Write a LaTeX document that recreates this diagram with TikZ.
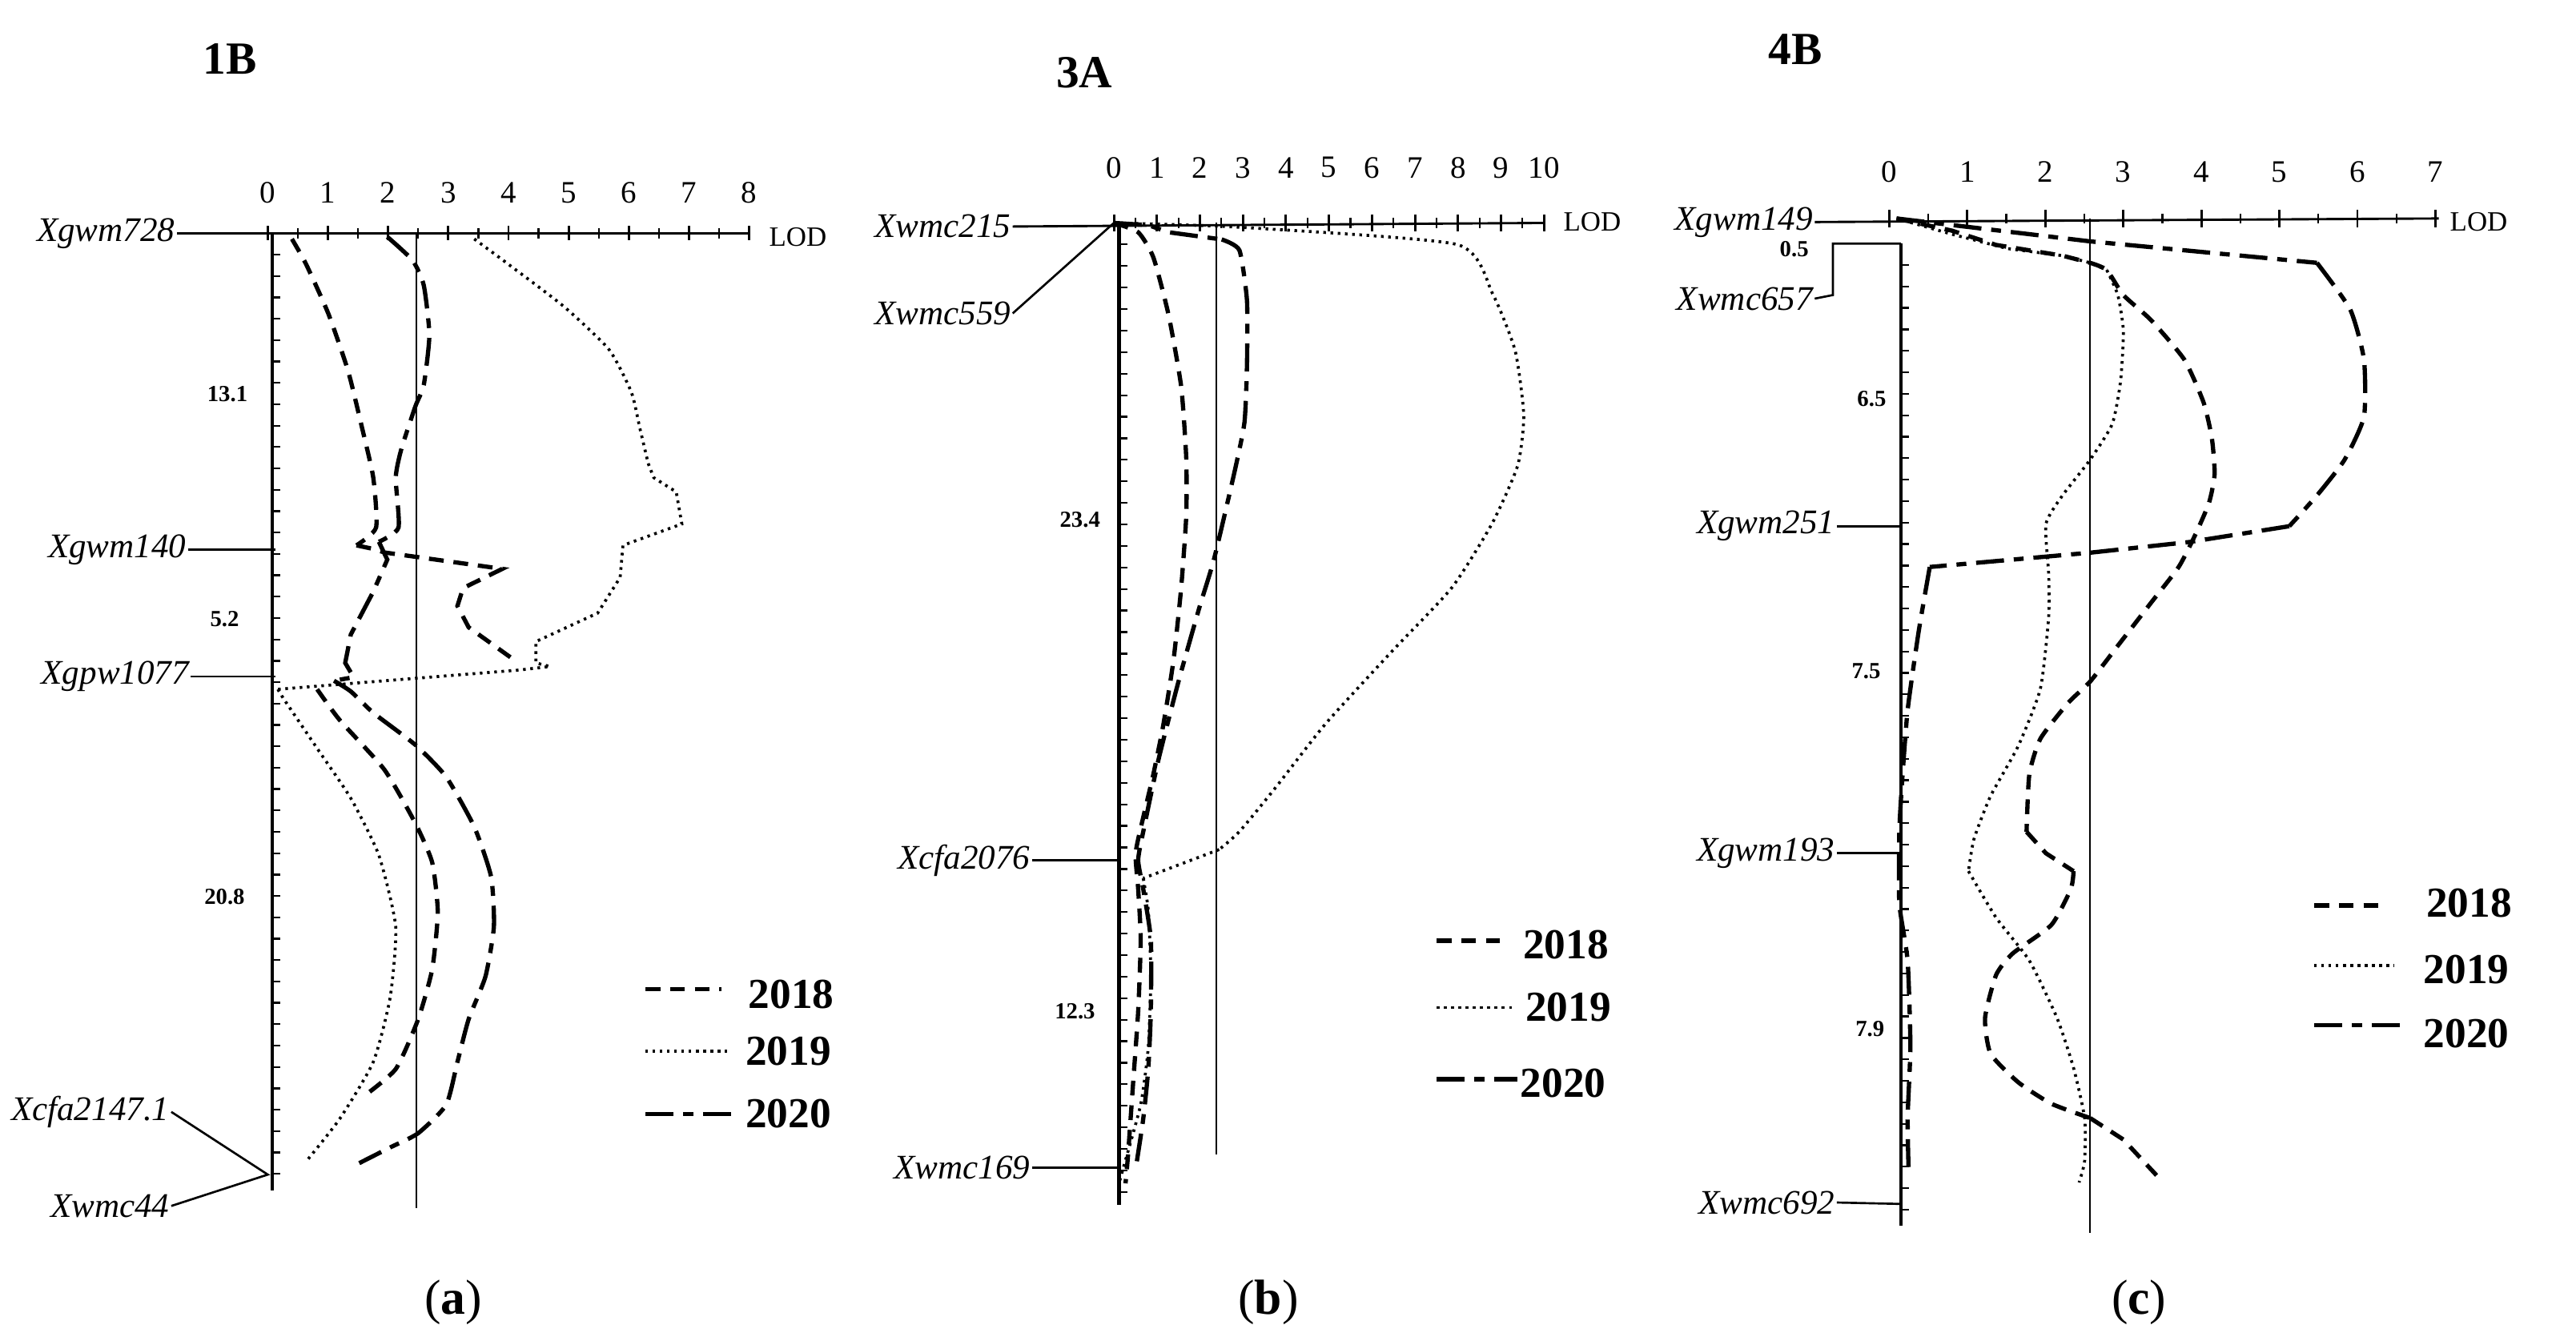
\documentclass[tikz,border=0pt]{standalone}
\usepackage{fontspec}
\setmainfont{Liberation Serif}
\begin{document}
\begin{tikzpicture}[x=1pt,y=-1pt,
  mk/.style={font=\fontsize{21}{21}\selectfont\itshape,anchor=east,inner sep=1pt},
  num/.style={font=\fontsize{19}{19}\selectfont,inner sep=0pt},
  lod/.style={font=\fontsize{17}{17}\selectfont,anchor=west,inner sep=0pt},
  iv/.style={font=\fontsize{14}{14}\selectfont\bfseries,inner sep=0pt},
  leg/.style={font=\fontsize{26}{26}\selectfont\bfseries,inner sep=0pt},
  ttl/.style={font=\fontsize{28}{28}\selectfont\bfseries,inner sep=0pt},
  capn/.style={font=\fontsize{30}{30}\selectfont,inner sep=0pt},
  axis/.style={line width=1.4pt},
  vaxis/.style={line width=2.4pt},
  thr/.style={line width=1.1pt},
  mline/.style={line width=1.3pt},
  y18/.style={line width=2.6pt,dash pattern=on 9pt off 6pt},
  y19/.style={line width=1.8pt,dash pattern=on 1.6pt off 2.8pt},
  y20/.style={line width=2.6pt,dash pattern=on 17pt off 6pt on 6pt off 6pt},
  cv/.style={smooth,tension=0.35}]
\useasboundingbox (0,0) rectangle (1568,816);
% titles and captions
\node[ttl] (t1) at (140,36) {1B};
\node[ttl] (t2) at (660,44) {3A};
\node[ttl] (t3) at (1093,30) {4B};
\node[capn] (ca) at (276,793) {(\textbf{a})};
\node[capn] (cb) at (772,793) {(\textbf{b})};
\node[capn] (cc) at (1302,793) {(\textbf{c})};

% ---------------- panel a ----------------
\begin{scope}[shift={(1.81,73.9)},xscale=0.3415,yscale=0.4338]
\coordinate (a0) at (472,157);
\coordinate (aend) at (1330,157);
\node[mk] (a728) at (310,157) {Xgwm728};
\draw[axis] (a728.east) -- (aend);
\foreach \k in {0,...,8}{
  \draw[axis] (472+107.25*\k,147) -- (472+107.25*\k,167);
  \node[num] at (472+107.25*\k,100) {\k};}
\foreach \k in {0,...,7}{\draw[thr] (525.6+107.25*\k,150) -- (525.6+107.25*\k,164);}
\node[lod] (alod) at (1365,162) {LOD};
\draw[vaxis] (480,157) -- (480,1500);
\foreach \y in {187,217,...,1490}{\draw[thr] (480,\y) -- (494,\y);}
\draw[thr] (737,157) -- (737,1525);
\node[mk] (a140) at (330,601) {Xgwm140};
\coordinate (a140e) at (485,601);
\draw[mline] (a140.east) -- (a140e);
\node[mk] (a1077) at (335,779) {Xgpw1077};
\coordinate (a1077e) at (485,779);
\draw[mline] (a1077.east) -- (a1077e);
\coordinate (a44p) at (472,1478);
\node[mk] (a2147) at (300,1390) {Xcfa2147.1};
\node[mk] (a44) at (300,1522) {Xwmc44};
\draw[mline] (a2147.east) -- (a44p) -- (a44.east);
\node[iv] at (400,383) {13.1};
\node[iv] at (395,698) {5.2};
\node[iv] at (395,1088) {20.8};
\draw[y18] plot[cv] coordinates {(515,165) (540,200) (580,270) (615,350) (640,430) (660,500) (665,570) (630,595)};
\draw[y18] (630,595) -- (660,600) -- (680,605) -- (890,628) -- (820,655) -- (810,680) -- (830,710) -- (915,758);
\draw[y18] plot[cv] coordinates {(560,797) (600,840) (680,910) (735,985) (765,1040) (775,1110) (765,1190) (740,1260) (700,1330) (640,1370)};
\draw[y19] plot[cv] coordinates {(840,165) (900,200) (1000,260) (1080,320) (1120,380) (1135,430) (1150,480)};
\draw[y19] (1150,480) -- (1160,500) -- (1200,520) -- (1210,565) -- (1105,595) -- (1100,640) -- (1060,690) -- (950,730) -- (950,760) -- (975,765) -- (920,770) -- (490,797);
\draw[y19] plot[cv] coordinates {(490,797) (500,810) (560,880) (620,950) (670,1030) (700,1130) (690,1230) (660,1320) (600,1400) (540,1460)};
\draw[y20] plot[cv] coordinates {(685,162) (730,195) (750,230) (760,300) (750,370) (735,400) (710,460) (700,500) (705,570) (670,590)};
\draw[y20] (670,590) -- (685,615) -- (660,660) -- (620,720) -- (610,760) -- (625,780) -- (590,785);
\draw[y20] plot[cv] coordinates {(590,785) (620,800) (660,830) (735,875) (790,920) (840,990) (870,1060) (875,1130) (860,1200) (830,1260) (810,1320) (790,1380) (740,1420) (690,1440) (635,1462)};
\coordinate (la1) at (1145,1218); \coordinate (la2) at (1280,1218);
\coordinate (la3) at (1145,1305); \coordinate (la4) at (1290,1305);
\coordinate (la5) at (1145,1393); \coordinate (la6) at (1300,1393);
\draw[y18] (la1) -- (la2); \draw[y19] (la3) -- (la4); \draw[y20] (la5) -- (la6);
\node[leg] at (1405,1225) {2018};
\node[leg] at (1400,1305) {2019};
\node[leg] at (1400,1393) {2020};
\end{scope}

% ---------------- panel b ----------------
\begin{scope}[shift={(538.8,69.3)},xscale=0.308,yscale=0.437]
\coordinate (bend) at (1302,152);
\node[mk] (b215) at (252,157) {Xwmc215};
\coordinate (b0) at (452,152);
\draw[axis] (b215.east) -- (bend);
\foreach \k in {0,...,10}{
  \draw[axis] (452+85*\k,140) -- (452+85*\k,164);
  \node[num] at (452+85*\k,75) {\k};}
\foreach \k in {0,...,9}{\draw[thr] (494.5+85*\k,145) -- (494.5+85*\k,159);}
\node[lod] at (1340,150) {LOD};
\draw[vaxis] (462,152) -- (462,1520);
\foreach \y in {182,212,...,1510}{\draw[thr] (462,\y) -- (478,\y);}
\draw[thr] (655,152) -- (655,1450);
\node[mk] (b559) at (252,278) {Xwmc559};
\draw[mline] (b559.east) -- (b0);
\node[mk] (b2076) at (290,1040) {Xcfa2076};
\coordinate (b2076e) at (462,1040);
\draw[mline] (b2076.east) -- (b2076e);
\node[mk] (b169) at (290,1468) {Xwmc169};
\coordinate (b169e) at (462,1468);
\draw[mline] (b169.east) -- (b169e);
\node[iv] at (385,565) {23.4};
\node[iv] at (375,1250) {12.3};
\draw[y19] plot[cv] coordinates {(452,152) (700,158) (1130,182) (1200,250) (1245,330) (1262,420) (1250,490) (1200,570) (1120,660) (1000,750) (870,850) (770,940) (700,1000) (660,1025)};
\draw[y19] (660,1025) -- (510,1065);
\draw[y19] plot[cv] coordinates {(510,1065) (520,1110) (525,1200) (520,1300) (505,1380) (470,1470) (462,1490)};
\draw[y18] plot[cv] coordinates {(452,152) (500,165) (530,200) (560,280) (585,380) (595,480) (595,560) (585,660) (570,760) (550,850) (530,920) (510,980) (495,1030) (500,1080) (505,1150) (500,1250) (490,1350) (480,1450) (475,1490)};
\draw[y20] (452,152) -- (520,155) -- (560,165) -- (665,175);
\draw[y20] plot[cv] coordinates {(665,175) (700,190) (715,260) (715,350) (710,430) (690,500) (650,620) (620,690) (580,790) (540,900) (510,1000) (500,1040) (510,1080) (525,1150) (525,1250) (520,1330) (510,1400) (495,1470)};
\coordinate (lb1) at (1090,1152); \coordinate (lb2) at (1215,1152);
\coordinate (lb3) at (1090,1245); \coordinate (lb4) at (1240,1245);
\coordinate (lb5) at (1090,1345); \coordinate (lb6) at (1250,1345);
\draw[y18] (lb1) -- (lb2); \draw[y19] (lb3) -- (lb4); \draw[y20] (lb5) -- (lb6);
\node[leg] at (1345,1158) {2018};
\node[leg] at (1350,1245) {2019};
\node[leg] at (1340,1350) {2020};
\end{scope}

% ---------------- panel c ----------------
\begin{scope}[shift={(1013,70.7)},xscale=0.3367,yscale=0.4357]
\coordinate (cend) at (1400,143);
\node[mk] (c149) at (272,148) {Xgwm149};
\draw[axis] (c149.east) -- (cend);
\foreach \k in {0,...,7}{
  \draw[axis] (407+141*\k,131) -- (407+141*\k,155);
  \node[num] at (407+141*\k,78) {\k};}
\foreach \k in {0,...,6}{\draw[thr] (477.5+141*\k,136) -- (477.5+141*\k,150);}
\node[lod] at (1420,148) {LOD};
\draw[vaxis] (428,178) -- (428,1550);
\foreach \y in {208,238,...,1540}{\draw[thr] (428,\y) -- (442,\y);}
\draw[thr] (770,143) -- (770,1560);
\node[mk] (c657) at (272,255) {Xwmc657};
\coordinate (c657a) at (305,250); \coordinate (c657b) at (305,178); \coordinate (c657c) at (428,178);
\draw[mline] (c657.east) -- (c657a) -- (c657b) -- (c657c);
\node[iv] at (235,186) {0.5};
\node[mk] (c251) at (312,573) {Xgwm251};
\coordinate (c251e) at (428,573);
\draw[mline] (c251.east) -- (c251e);
\node[mk] (c193) at (312,1030) {Xgwm193};
\coordinate (c193e) at (428,1030);
\draw[mline] (c193.east) -- (c193e);
\node[mk] (c692) at (312,1518) {Xwmc692};
\coordinate (c692e) at (428,1520);
\draw[mline] (c692.east) -- (c692e);
\node[iv] at (375,395) {6.5};
\node[iv] at (365,775) {7.5};
\node[iv] at (372,1275) {7.9};
\draw[y18] (420,143) -- (520,160) -- (600,180) -- (720,195) -- (770,205);
\draw[y18] plot[cv] coordinates {(770,205) (800,215) (830,250) (880,285) (940,340) (975,400) (990,450) (995,500) (985,540) (960,585) (930,630) (880,680) (820,740) (770,790) (730,820) (680,870) (660,920) (655,1000)};
\draw[y18] (655,1000) -- (690,1030) -- (740,1055);
\draw[y18] plot[cv] coordinates {(740,1055) (735,1080) (700,1130) (630,1170) (600,1200) (580,1260) (590,1310) (640,1350) (700,1380) (770,1400)};
\draw[y18] (770,1400) -- (830,1430) -- (890,1480);
\draw[y19] (420,143) -- (520,165) -- (620,185) -- (720,195) -- (770,205) -- (800,215);
\draw[y19] plot[cv] coordinates {(800,215) (820,250) (830,300) (825,370) (810,430) (770,480) (720,530) (690,570) (695,640) (695,700) (680,800) (640,880) (590,950) (560,1010) (550,1055)};
\draw[y19] plot[cv] coordinates {(550,1055) (600,1120) (660,1180) (710,1260) (740,1330) (760,1400) (760,1460) (750,1490)};
\draw[y20] (420,143) -- (770,175) -- (1180,205);
\draw[y20] plot[cv] coordinates {(1180,205) (1240,270) (1265,340) (1265,420) (1230,480) (1180,530) (1130,573)};
\draw[y20] (1130,573) -- (950,595) -- (770,610) -- (480,630);
\draw[y20] plot[cv] coordinates {(480,630) (460,720) (440,830) (430,930) (425,1000) (425,1100) (440,1180) (445,1300) (440,1400) (442,1480)};
\coordinate (lc1) at (1175,1103); \coordinate (lc2) at (1300,1103);
\coordinate (lc3) at (1175,1187); \coordinate (lc4) at (1320,1187);
\coordinate (lc5) at (1175,1270); \coordinate (lc6) at (1330,1270);
\draw[y18] (lc1) -- (lc2); \draw[y19] (lc3) -- (lc4); \draw[y20] (lc5) -- (lc6);
\node[leg] at (1455,1100) {2018};
\node[leg] at (1450,1192) {2019};
\node[leg] at (1450,1282) {2020};
\end{scope}
\end{tikzpicture}
\end{document}
